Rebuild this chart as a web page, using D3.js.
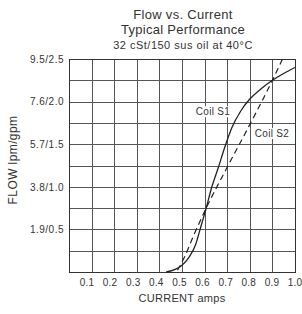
<!DOCTYPE html>
<html>
<head>
<meta charset="utf-8">
<script src="https://cdn.jsdelivr.net/npm/d3@7"></script>
<style>
  html, body { margin: 0; padding: 0; background: #fff; }
  svg { display: block; font-family: "Liberation Sans", Arial, Helvetica, sans-serif; }
</style>
</head>
<body>
<svg id="chart" width="302" height="314"></svg>
<script>
// chart values
const titleLines = ["Flow vs. Current", "Typical Performance", "32 cSt/150 sus oil at 40°C"];
const currentTicks = [0.1, 0.2, 0.3, 0.4, 0.5, 0.6, 0.7, 0.8, 0.9, 1.0];
const flowTicks = [0.5, 1.0, 1.5, 2.0, 2.5];
const flowTickLabels = ["1.9/0.5", "3.8/1.0", "5.7/1.5", "7.6/2.0", "9.5/2.5"];

// Coil S1 (solid), current in amps, flow in gpm
const coilS1Current = [0.43, 0.47, 0.50, 0.53, 0.56, 0.58, 0.607, 0.63, 0.66, 0.69, 0.72, 0.76, 0.80, 0.85, 0.90, 0.95, 1.0];
const coilS1Flow    = [0.00, 0.03, 0.08, 0.17, 0.32, 0.50, 0.75, 0.98, 1.22, 1.47, 1.69, 1.89, 2.03, 2.15, 2.25, 2.33, 2.40];
// Coil S2 (dashed)
const coilS2Current = [0.48, 0.51, 0.55, 0.607, 0.70, 0.80, 0.90, 0.945];
const coilS2Flow    = [0.02, 0.17, 0.42, 0.75, 1.23, 1.73, 2.25, 2.50];

const seriesLabels = ["Coil S1", "Coil S2"];
const labelCurrent = [0.637, 0.898];
const labelFlow = [1.84, 1.585];

const svg = d3.select("#chart");
const margin = { top: 59, right: 7, bottom: 42, left: 69 };
const width = +svg.attr("width") - margin.left - margin.right;
const height = +svg.attr("height") - margin.top - margin.bottom;

const x = d3.scaleLinear().domain([0, 1]).range([margin.left, margin.left + width]);
const y = d3.scaleLinear().domain([0, 2.5]).range([margin.top + height, margin.top]);
// tick labels in the original drift slightly against the grid
const xLabel = d3.scaleLinear().domain([0.1, 1.0]).range([86.5, 294.5]);

const textColor = "#333";

// title
svg.append("g").selectAll("text")
  .data(titleLines)
  .join("text")
  .attr("x", 183)
  .attr("y", (d, i) => [18.5, 34, 48.5][i])
  .attr("text-anchor", "middle")
  .attr("font-size", (d, i) => i < 2 ? "13px" : "11px")
  .attr("letter-spacing", (d, i) => i < 2 ? "0.3px" : "0.5px")
  .attr("fill", textColor)
  .text(d => d);

// grid
const grid = svg.append("g").attr("stroke", "#555").attr("stroke-width", 1);
grid.selectAll("line.v")
  .data(d3.range(1, 10).map(i => i / 10))
  .join("line")
  .attr("class", "v")
  .attr("x1", d => Math.round(x(d)) + 0.5)
  .attr("x2", d => Math.round(x(d)) + 0.5)
  .attr("y1", y(2.5))
  .attr("y2", y(0));
grid.selectAll("line.h")
  .data(d3.range(1, 10).map(i => i * 0.25))
  .join("line")
  .attr("class", "h")
  .attr("x1", x(0))
  .attr("x2", x(1))
  .attr("y1", d => Math.round(y(d)) + 0.5)
  .attr("y2", d => Math.round(y(d)) + 0.5);

svg.append("rect")
  .attr("x", x(0) + 0.5)
  .attr("y", y(2.5) + 0.5)
  .attr("width", Math.round(x(1) - x(0)))
  .attr("height", Math.round(y(0) - y(2.5)))
  .attr("fill", "none")
  .attr("stroke", "#333");

// x tick labels
const xAxis = svg.append("g")
  .attr("transform", "translate(0,276)")
  .call(d3.axisBottom(xLabel).tickValues(currentTicks).tickSize(0).tickFormat(d3.format(".1f")));
xAxis.select(".domain").remove();
xAxis.selectAll("text")
  .attr("font-size", "10px")
  .attr("letter-spacing", "0.2px")
  .attr("fill", textColor);
xAxis.attr("font-family", null);

// y tick labels
const yAxis = svg.append("g")
  .attr("transform", "translate(64,0)")
  .call(d3.axisLeft(y).tickValues(flowTicks).tickSize(0).tickPadding(0)
    .tickFormat((d, i) => flowTickLabels[i]));
yAxis.select(".domain").remove();
yAxis.attr("font-family", null);
yAxis.selectAll("text")
  .attr("font-size", "10px")
  .attr("letter-spacing", "0.5px")
  .attr("fill", textColor);

// axis titles
svg.append("text")
  .attr("x", x(0.5))
  .attr("y", 302)
  .attr("text-anchor", "middle")
  .attr("font-size", "11px")
  .attr("letter-spacing", "0.3px")
  .attr("fill", textColor)
  .text("CURRENT amps");

svg.append("text")
  .attr("transform", "translate(17,160) rotate(-90)")
  .attr("text-anchor", "middle")
  .attr("font-size", "12px")
  .attr("letter-spacing", "0.4px")
  .attr("fill", textColor)
  .text("FLOW lpm/gpm");

// curves
const line = d3.line()
  .x(d => x(d[0]))
  .y(d => y(d[1]))
  .curve(d3.curveMonotoneX);

const s1 = coilS1Current.map((c, i) => [c, coilS1Flow[i]]);
const s2 = coilS2Current.map((c, i) => [c, coilS2Flow[i]]);

svg.append("path")
  .datum(s2)
  .attr("d", line)
  .attr("fill", "none")
  .attr("stroke", "#222")
  .attr("stroke-width", 1.2)
  .attr("stroke-dasharray", "6,4");

svg.append("path")
  .datum(s1)
  .attr("d", line)
  .attr("fill", "none")
  .attr("stroke", "#222")
  .attr("stroke-width", 1.3);

// series labels with white backing
seriesLabels.forEach((label, i) => {
  const g = svg.append("g");
  const t = g.append("text")
    .attr("x", x(labelCurrent[i]))
    .attr("y", y(labelFlow[i]))
    .attr("text-anchor", "middle")
    .attr("font-size", "10px")
    .attr("letter-spacing", "0.3px")
    .attr("fill", textColor)
    .text(label);
  const b = t.node().getBBox();
  g.insert("rect", "text")
    .attr("x", b.x - 1)
    .attr("y", b.y)
    .attr("width", b.width + 2)
    .attr("height", b.height)
    .attr("fill", "#fff");
});
</script>
</body>
</html>
